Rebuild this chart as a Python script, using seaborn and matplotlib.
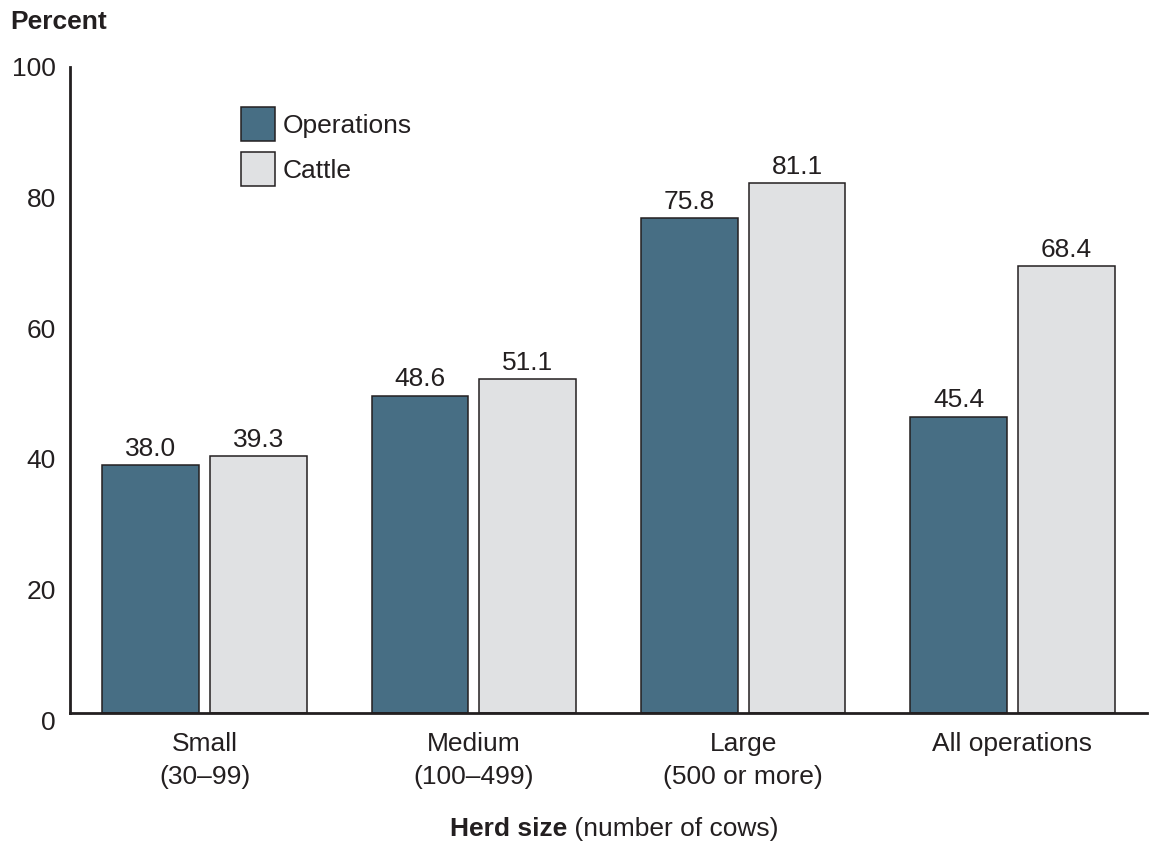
import matplotlib
matplotlib.use("Agg")
import matplotlib.pyplot as plt
import matplotlib.transforms as mtransforms
import seaborn as sns
import pandas as pd

categories = ["Small\n(30\u201399)", "Medium\n(100\u2013499)", "Large\n(500 or more)", "All operations"]
operations = [38.0, 48.6, 75.8, 45.4]
cattle = [39.3, 51.1, 81.1, 68.4]
series = ["Operations", "Cattle"]
yticks = [0, 20, 40, 60, 80, 100]

INK = "#231F20"
COLORS = {"Operations": "#476E84", "Cattle": "#E0E1E3"}
FS = 19

df = pd.DataFrame({
    "herd": categories * 2,
    "series": [series[0]] * len(categories) + [series[1]] * len(categories),
    "value": operations + cattle,
})

sns.set_theme(style="white")
plt.rcParams["font.family"] = ["Liberation Sans", "DejaVu Sans"]
plt.rcParams["text.color"] = INK

fig = plt.figure(figsize=(11.53, 8.44), dpi=100)
ax = fig.add_axes([70 / 1153, 131 / 844, 1077 / 1153, 653 / 844])

sns.barplot(data=df, x="herd", y="value", hue="series", hue_order=series,
            palette=COLORS, width=0.8, gap=0.1, edgecolor=INK, linewidth=1.1,
            saturation=1, ax=ax)

for cont in ax.containers:
    ax.bar_label(cont, fmt="%.1f", padding=3, fontsize=FS, color=INK)

ax.set_ylim(0, 100)
ax.set_xlim(-0.5, 3.5)
ax.set_yticks(yticks)
ax.set_xlabel("")
ax.set_ylabel("")
ax.tick_params(axis="y", length=0, pad=10, labelsize=FS, labelcolor=INK)
ax.tick_params(axis="x", length=0, pad=14, labelsize=FS, labelcolor=INK)
shift = mtransforms.ScaledTranslation(0, -7 / 100, fig.dpi_scale_trans)
for lab in ax.get_yticklabels():
    lab.set_transform(lab.get_transform() + shift)
for lab in ax.get_xticklabels():
    lab.set_linespacing(1.45)

sns.despine(ax=ax, top=True, right=True)
for side in ["left", "bottom"]:
    ax.spines[side].set_color(INK)
    ax.spines[side].set_linewidth(2)
ax.spines["left"].set_bounds(0, 99)

handles, labels = ax.get_legend_handles_labels()
ax.legend(handles, labels, loc="upper left",
          bbox_to_anchor=((241 - 70) / 1077, (713 - 107) / 653),
          frameon=False, fontsize=FS, borderpad=0, borderaxespad=0,
          handlelength=1.29, handleheight=1.6, handletextpad=0.3,
          labelspacing=0.42)

fig.text(10 / 1153, 1 - 22 / 844, "Percent", fontsize=FS, fontweight="bold",
         va="center", ha="left", color=INK)

t1 = fig.text(450 / 1153, 1 - 829 / 844, "Herd size", fontsize=FS,
              fontweight="bold", va="center", ha="left", color=INK)
ax.annotate(" (number of cows)", xy=(1, 0), xycoords=t1, va="bottom",
            ha="left", fontsize=FS, color=INK, annotation_clip=False)

fig.savefig("out.png", dpi=100)
